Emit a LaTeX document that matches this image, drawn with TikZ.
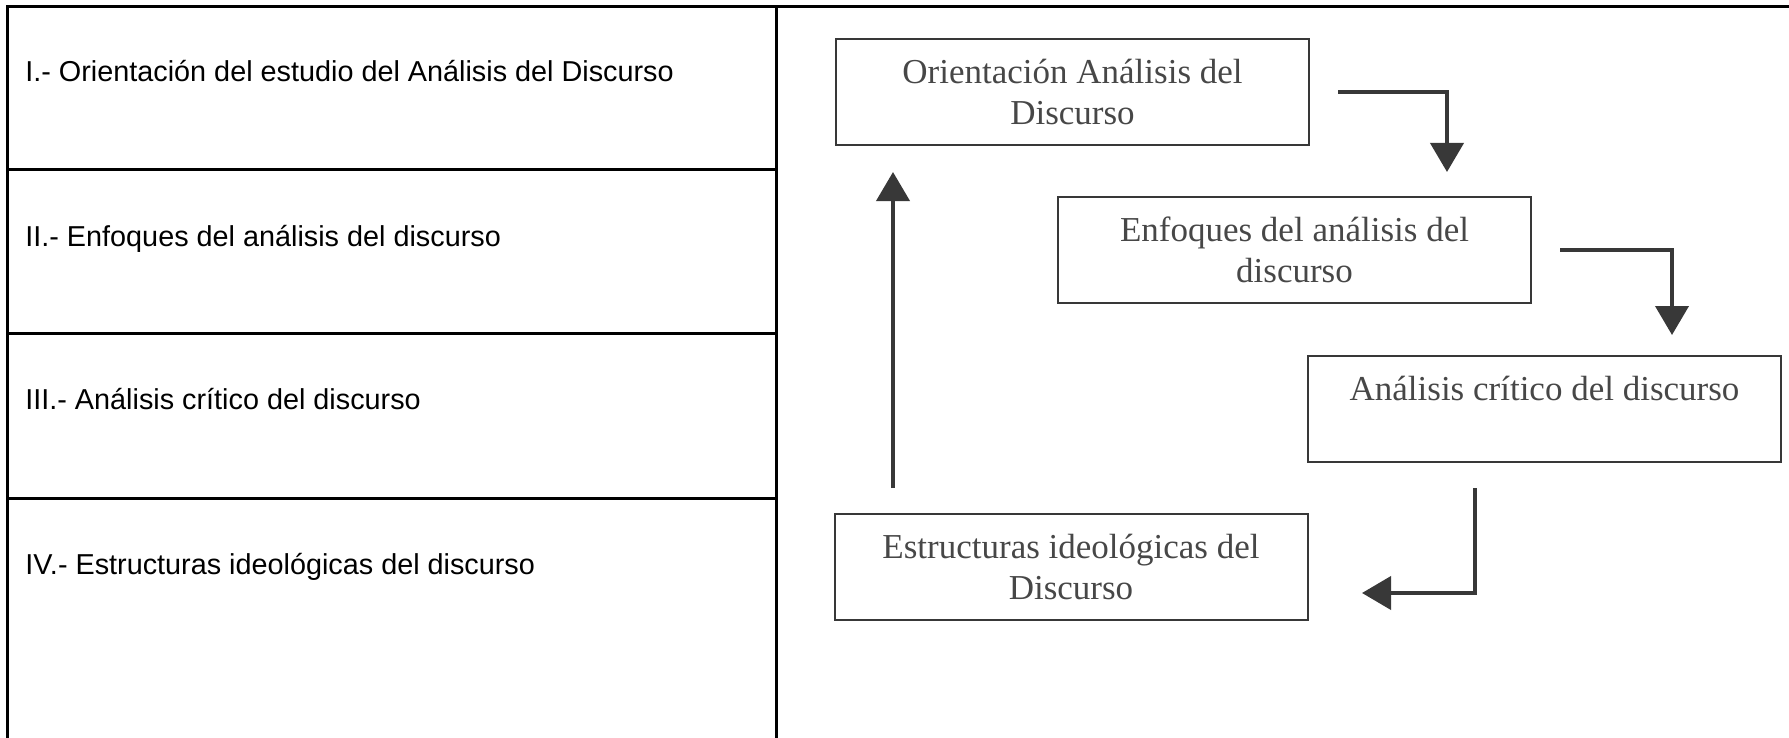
\documentclass[tikz,border=0pt]{standalone}
\usepackage{fontspec}
\setmainfont{Liberation Serif}
\setsansfont{Liberation Sans}
\usetikzlibrary{arrows.meta,calc}
\definecolor{boxline}{gray}{0.22}
\definecolor{boxtext}{gray}{0.28}
\tikzset{
  rule/.style={line width=1.5pt},
  item/.style={anchor=base west,inner sep=0pt,font=\sffamily\fontsize{14.4}{17}\selectfont},
  stage/.style={draw=boxline,line width=1pt,minimum width=236.5pt,minimum height=53pt,
    align=center,text=boxtext,inner sep=0pt,font=\fontsize{17.5}{20.5}\selectfont},
  flow/.style={draw=boxline,line width=2pt,-{Triangle[length=14.5pt,width=16.5pt]}}
}
\begin{document}
\begin{tikzpicture}[x=0.5pt,y=-0.5pt]
  \useasboundingbox (0,0) rectangle (1789,738);
  % table on the left
  \draw[rule] (7,738) -- (7,7) -- (1789,7);
  \draw[rule] (776,7) -- (776,738);
  \foreach \y in {170,333,498}
    \draw[rule] (7,\y) -- (776,\y);
  \foreach \y/\t [count=\i] in {82/{I.- Orientación del estudio del Análisis del Discurso},
      246/{II.- Enfoques del análisis del discurso},
      409/{III.- Análisis crítico del discurso},
      574/{IV.- Estructuras ideológicas del discurso}}
    \node[item] (sec\i) at (25,\y) {\t};
  % cycle on the right
  \node[stage] (orient)  at (1072.5,92.5) {Orientación Análisis del\\Discurso};
  \node[stage] (enfoq)   at (1294.5,250)  {Enfoques del análisis del\\discurso};
  \node[stage] (critico) at (1544.5,409)  {Análisis crítico del discurso\\\mbox{}};
  \node[stage] (estruct) at (1071,566.5)  {Estructuras ideológicas del\\Discurso};
  \coordinate (t1) at (1447,172);
  \coordinate (t2) at (1672,335);
  \coordinate (s3) at (1475,488);
  \coordinate (t3) at (1362,593);
  \coordinate (s4) at (893,488);
  \coordinate (t4) at (893,172);
  \draw[flow] ($(orient.east)+(28,0)$) -| (t1);
  \draw[flow] ($(enfoq.east)+(28,0)$) -| (t2);
  \draw[flow] (s3) |- (t3);
  \draw[flow] (s4) -- (t4);
\end{tikzpicture}
\end{document}
